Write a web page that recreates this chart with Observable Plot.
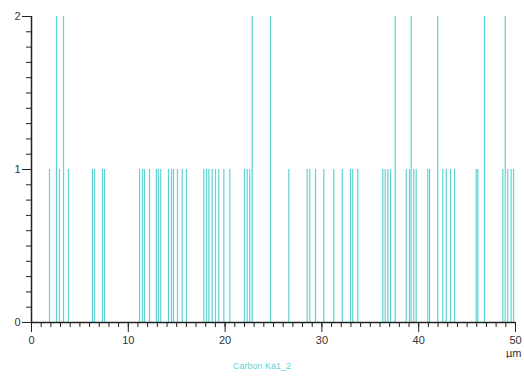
<!DOCTYPE html>
<html>
<head>
<meta charset="utf-8">
<script src="https://cdn.jsdelivr.net/npm/d3@7"></script>
<script src="https://cdn.jsdelivr.net/npm/@observablehq/plot@0.6"></script>
<style>
  body { margin: 0; background: #fff; }
  #cap { width: 524px; text-align: center; font: 9px "Liberation Sans", Arial, sans-serif; color: #5fd4d4; line-height: 16px; }
</style>
</head>
<body>
<div id="chart"></div>
<div id="cap"></div>
<script>
// spike positions (µm) and counts
const positions = [1.86, 2.58, 2.89, 3.31, 3.82, 6.3, 6.5, 7.33, 7.54, 11.16, 11.47, 11.67, 12.19, 12.9, 13.1, 13.35, 14.15, 14.46, 14.67, 15.08, 15.57, 16.01, 17.8, 18.08, 18.32, 18.67, 19.01, 19.35, 19.87, 20.49, 22.0, 22.28, 22.55, 22.8, 24.69, 26.58, 28.48, 28.75, 29.34, 30.2, 31.23, 32.1, 32.95, 33.19, 33.71, 36.29, 36.54, 36.81, 37.09, 37.57, 38.71, 39.05, 39.22, 39.49, 39.74, 40.94, 41.12, 41.97, 42.49, 42.84, 43.29, 43.7, 45.94, 46.11, 46.8, 48.69, 48.94, 49.2, 49.55, 49.8];
const counts =    [1, 2, 1, 2, 1, 1, 1, 1, 1, 1, 1, 1, 1, 1, 1, 1, 1, 1, 1, 1, 1, 1, 1, 1, 1, 1, 1, 1, 1, 1, 1, 1, 1, 2, 2, 1, 1, 1, 1, 1, 1, 1, 1, 1, 1, 1, 1, 1, 1, 2, 1, 1, 2, 1, 1, 1, 1, 2, 1, 1, 1, 1, 1, 1, 2, 1, 2, 1, 1, 1];
const xMajorTicks = [0, 10, 20, 30, 40, 50];
const xMinorTicks = d3.range(0, 51, 1);
const yMajorTicks = [0, 1, 2];
const yMinorTicks = d3.range(0, 2.001, 0.1);
const seriesLabel = "Carbon Ka1_2";
const unitLabel = "µm";

const data = positions.map((x, i) => ({x, h: counts[i]}));
const axisColor = "#222";

const chart = Plot.plot({
  width: 524,
  height: 358,
  marginLeft: 31,
  marginRight: 9,
  marginTop: 16,
  marginBottom: 36,
  style: {fontFamily: "'Liberation Sans', Arial, sans-serif", fontSize: "11px", color: "#333", background: "#fff"},
  x: {domain: [0, 50]},
  y: {domain: [0, 2]},
  marks: [
    Plot.ruleX(data, {x: "x", y1: 0, y2: "h", stroke: "#5fd3d3", strokeWidth: 1.2}),
    Plot.axisX({ticks: xMinorTicks, tickSize: 5, tickFormat: () => "", stroke: axisColor, label: null}),
    Plot.axisX({ticks: xMajorTicks, tickSize: 10, tickPadding: 4, tickFormat: d3.format("d"), stroke: axisColor, label: unitLabel, labelAnchor: "right", labelArrow: "none", labelOffset: 34}),
    Plot.axisY({ticks: yMinorTicks, tickSize: 5, tickFormat: () => "", stroke: axisColor, label: null}),
    Plot.axisY({ticks: yMajorTicks, tickSize: 9, tickPadding: 2, tickFormat: d3.format("d"), stroke: axisColor, label: null}),
    Plot.ruleY([0], {stroke: axisColor, strokeWidth: 1.5}),
    Plot.ruleX([0], {stroke: axisColor, strokeWidth: 1.5})
  ]
});
document.getElementById("chart").append(chart);
document.getElementById("cap").textContent = seriesLabel;
</script>
</body>
</html>
